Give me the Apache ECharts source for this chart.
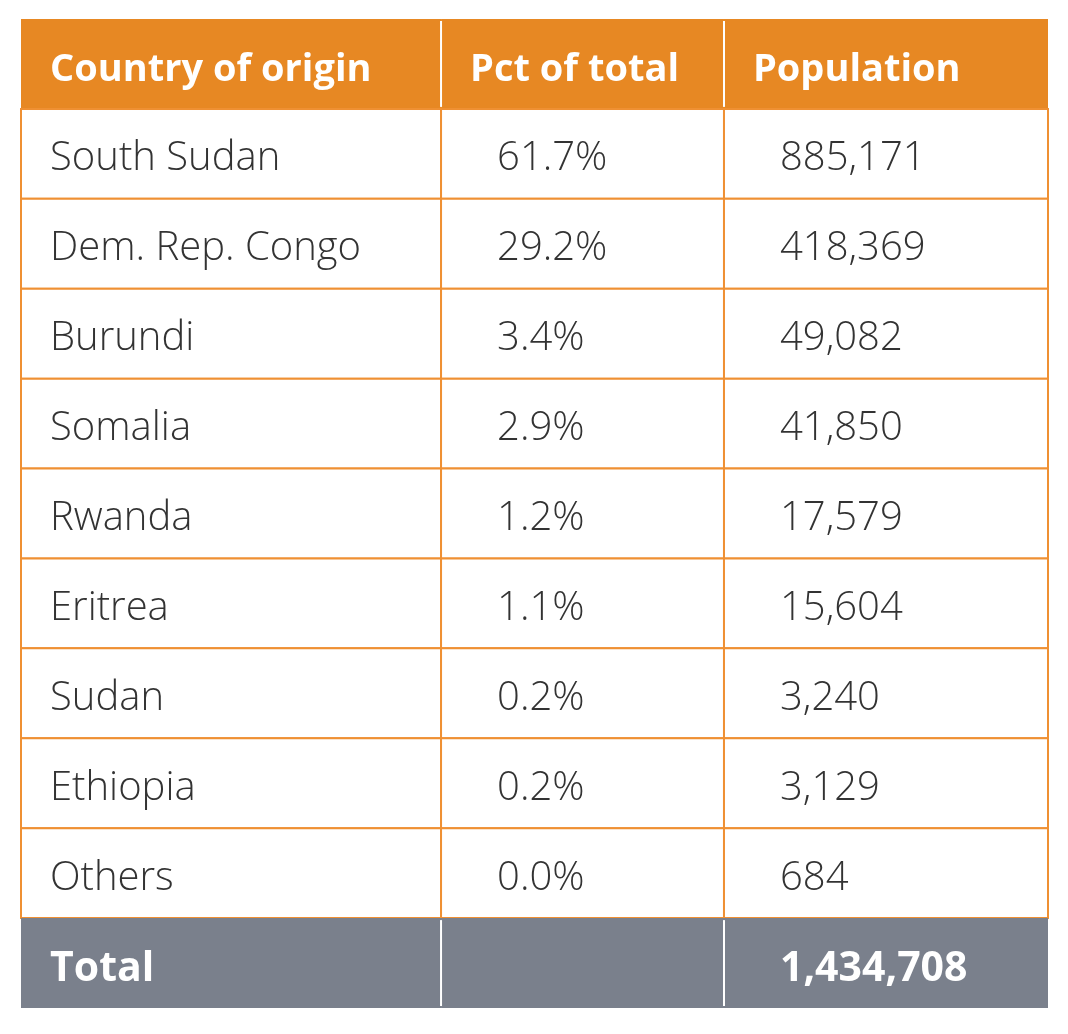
<!DOCTYPE html>
<html lang="en">
<head>
    <meta charset="UTF-8">
    <title>Refugees by country of origin</title>
    <style>
        html, body { margin: 0; padding: 0; background: #fff; }
    </style>
    <script src="https://cdn.jsdelivr.net/npm/echarts@6/dist/echarts.min.js"></script>
</head>
<body>
    <div style="height: 1034px;width: 1068px" id="tableBox"></div>
    <script type="text/javascript">
        // table content
        var headers = ['Country of origin', 'Pct of total', 'Population'];
        var countries = ['South Sudan', 'Dem. Rep. Congo', 'Burundi', 'Somalia', 'Rwanda', 'Eritrea', 'Sudan', 'Ethiopia', 'Others'];
        var pctOfTotal = [61.7, 29.2, 3.4, 2.9, 1.2, 1.1, 0.2, 0.2, 0.0];
        var population = [885171, 418369, 49082, 41850, 17579, 15604, 3240, 3129, 684];
        var totalLabel = 'Total';
        var totalPopulation = 1434708;

        // column edges as share of the table width
        var colEdges = [0, 0.409, 0.6845, 1];
        var padLeft = [29, 56, 56];

        function fmt(n) {
            return String(n).replace(/\B(?=(\d{3})+(?!\d))/g, ',');
        }

        var rowNames = ['header'].concat(countries).concat(['total']);
        var cells = [];
        headers.forEach(function (h, c) {
            cells.push({ col: c, row: 0, text: h, kind: 'head' });
        });
        countries.forEach(function (name, i) {
            cells.push({ col: 0, row: i + 1, text: name, kind: 'body' });
            cells.push({ col: 1, row: i + 1, text: pctOfTotal[i].toFixed(1) + '%', kind: 'body' });
            cells.push({ col: 2, row: i + 1, text: fmt(population[i]), kind: 'body' });
        });
        var last = rowNames.length - 1;
        cells.push({ col: 0, row: last, text: totalLabel, kind: 'total' });
        cells.push({ col: 1, row: last, text: '', kind: 'total' });
        cells.push({ col: 2, row: last, text: fmt(totalPopulation), kind: 'total' });

        var myChart = echarts.init(document.getElementById('tableBox'));
        var option = {
            animation: false,
            grid: { left: 21, right: 20, top: 19, bottom: 26 },
            xAxis: { type: 'value', min: 0, max: 1, show: false },
            yAxis: { type: 'category', data: rowNames, inverse: true, show: false },
            series: [{
                type: 'custom',
                coordinateSystem: 'cartesian2d',
                data: cells.map(function (c) { return [c.col, c.row]; }),
                renderItem: function (params, api) {
                    var cell = cells[params.dataIndex];
                    var col = api.value(0), row = api.value(1);
                    var p0 = api.coord([colEdges[col], row]);
                    var p1 = api.coord([colEdges[col + 1], row]);
                    var h = api.size([0, 1])[1];
                    var x = p0[0], y = p0[1] - h / 2, w = p1[0] - p0[0];
                    var children = [];
                    if (cell.kind === 'body') {
                        children.push({
                            type: 'rect',
                            shape: { x: x, y: y, width: w, height: h },
                            style: { fill: '#fff', stroke: '#EF9033', lineWidth: 2 }
                        });
                    } else {
                        children.push({
                            type: 'rect',
                            shape: { x: x, y: y, width: w, height: h },
                            style: { fill: cell.kind === 'head' ? '#E78823' : '#7A808C' }
                        });
                        if (col > 0) {
                            children.push({
                                type: 'line',
                                shape: { x1: x, y1: y + 2, x2: x, y2: y + h - 2 },
                                style: { stroke: '#fff', lineWidth: 2 }
                            });
                        }
                    }
                    var pad = cell.kind === 'head' ? 29 : padLeft[col];
                    var font;
                    if (cell.kind === 'body') font = '300 40px "Open Sans", sans-serif';
                    else if (cell.kind === 'head') font = 'bold 38px "Open Sans", sans-serif';
                    else font = 'bold 41px "Open Sans", sans-serif';
                    children.push({
                        type: 'text',
                        x: x + pad,
                        y: y + h / 2 + (cell.kind === 'body' ? 5 : 6),
                        style: {
                            text: cell.text,
                            fill: cell.kind === 'body' ? '#333' : '#fff',
                            font: font,
                            verticalAlign: 'middle',
                            align: 'left'
                        }
                    });
                    return { type: 'group', children: children };
                }
            }]
        };
        myChart.setOption(option);
    </script>
</body>
</html>
